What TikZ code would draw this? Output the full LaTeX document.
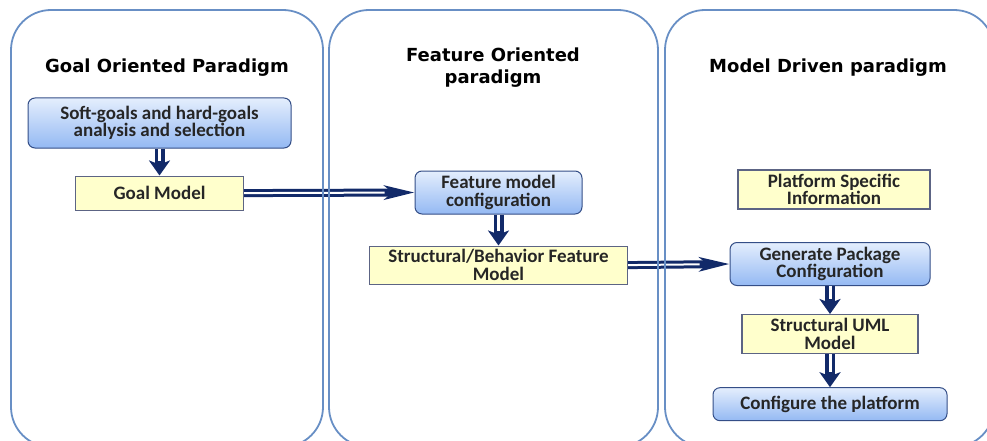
\documentclass[tikz,border=0pt]{standalone}
\usepackage{fontspec}
\setmainfont{Carlito}
\newfontfamily\titlefont{DejaVu Sans}
\usepackage{tikz}
\usetikzlibrary{arrows.meta, positioning}

\definecolor{paneledge}{RGB}{104,143,197}
\definecolor{arrownavy}{RGB}{18,42,105}
\definecolor{boxedge}{RGB}{52,78,135}
\definecolor{boxtop}{RGB}{228,238,253}
\definecolor{boxbottom}{RGB}{148,185,243}
\definecolor{notefill}{RGB}{255,255,204}
\definecolor{noteedge}{RGB}{92,100,132}

\begin{document}
\begin{tikzpicture}[x=1pt, y=-1pt,
    panel/.style={draw=paneledge, line width=1.8pt, rounded corners=40pt},
    paneltitle/.style={font=\titlefont\bfseries\fontsize{18}{22}\selectfont, align=center},
    task/.style={draw=boxedge, line width=1pt, rounded corners=7pt, top color=boxtop, bottom color=boxbottom,
        align=center, inner sep=2pt, text=black!85, font=\bfseries\fontsize{19}{17.5}\selectfont},
    model/.style={draw=noteedge, line width=1.2pt, fill=notefill,
        align=center, inner sep=2pt, text=black!85, font=\bfseries\fontsize{19}{17.5}\selectfont},
    flowdown/.style={draw=arrownavy, line width=10pt, -{Stealth[length=15pt, width=21pt, inset=4pt]},
        postaction={draw=white, line width=3pt, -, shorten >=15pt}},
    flowright/.style={draw=arrownavy, line width=8pt, -{Stealth[length=30pt, width=14pt, inset=8pt]},
        postaction={draw=white, line width=2pt, -, shorten >=30pt}}]

    \useasboundingbox (0,0) rectangle (987,441);
    \clip (0,0) rectangle (987,441);

    % panel headings
    \node[paneltitle] (goaltitle) at (167,68) {Goal Oriented Paradigm};
    \node[paneltitle] (feattitle) at (493,68) {Feature Oriented\\paradigm};
    \node[paneltitle] (mdtitle) at (828,68) {Model Driven paradigm};

    % goal oriented side
    \node[task, minimum width=263pt, minimum height=50pt] (softgoals) at (159.5,123) {Soft-goals and hard-goals\\analysis and selection};
    \node[model, minimum width=168pt, minimum height=34pt, below=27pt of softgoals] (goalmodel) {Goal Model};

    % feature oriented side
    \node[task, minimum width=167pt, minimum height=43pt] (featconf) at (498.5,192.5) {Feature model\\configuration};
    \node[model, minimum width=258pt, minimum height=38pt, below=31pt of featconf] (sbmodel) {Structural/Behavior Feature\\Model};

    % model driven side
    \node[model, minimum width=192pt, minimum height=39pt] (platinfo) at (834,189.5) {Platform Specific\\Information};
    \node[task, minimum width=200pt, minimum height=43pt] (genpkg) at (830,264) {Generate Package\\Configuration};
    \node[model, minimum width=176pt, minimum height=39pt, below=28pt of genpkg] (umlmodel) {Structural UML\\Model};
    \node[task, minimum width=234pt, minimum height=33pt, below=33pt of umlmodel] (platconf) {Configure the platform};

    \draw[flowdown] (softgoals) -- (goalmodel);
    \draw[flowdown] (featconf) -- (sbmodel);
    \draw[flowdown] (genpkg) -- (umlmodel);
    \draw[flowdown] (umlmodel) -- (platconf);
    \draw[flowright] (goalmodel.east) -- (featconf.west);
    \draw[flowright] (sbmodel.east) -- (genpkg.west);

    % the three paradigm lanes
    \draw[panel] (11,10) rectangle (323,447);
    \draw[panel] (329,10) rectangle (658,447);
    \draw[panel] (665,10) rectangle (994,447);
\end{tikzpicture}
\end{document}
